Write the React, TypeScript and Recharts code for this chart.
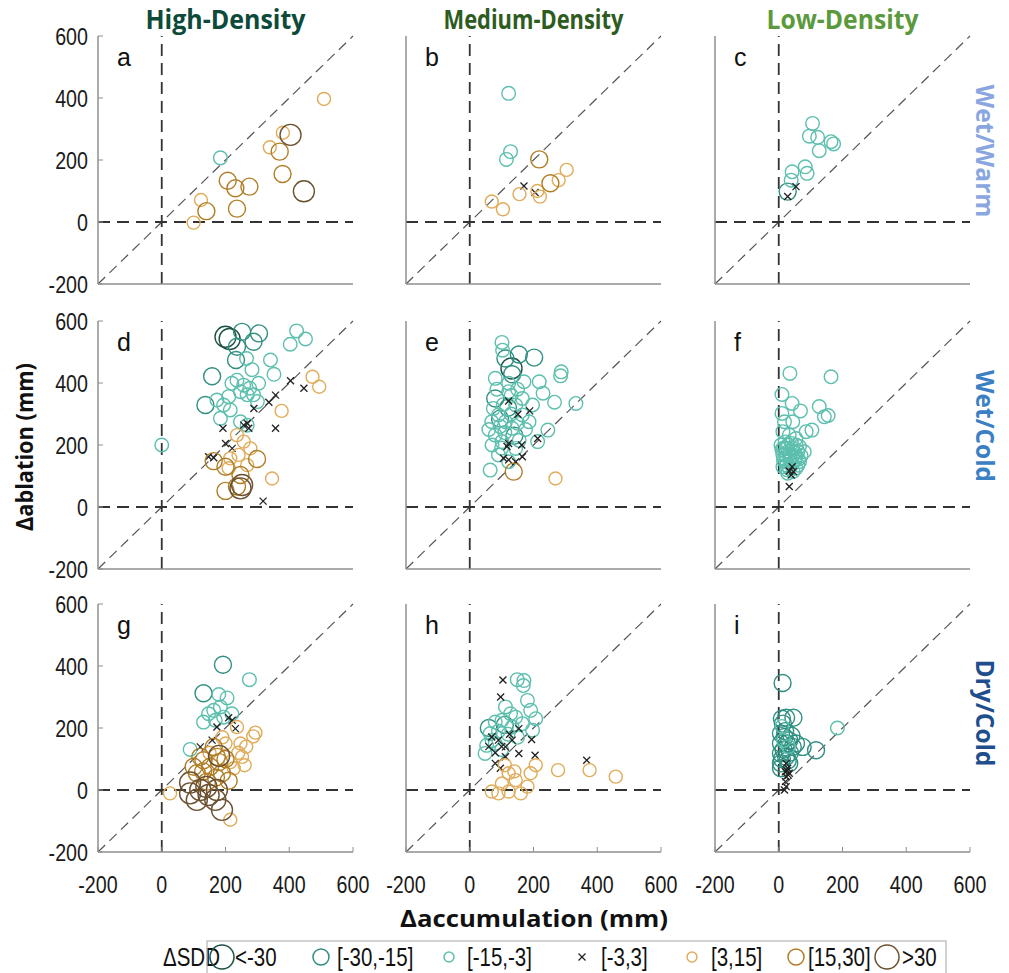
import React from 'react';
import { ScatterChart, Scatter, XAxis, YAxis, ReferenceLine } from 'recharts';

// [accumulation, ablation, SDD bin index]
type Pt = [number, number, number];

const SDD_BINS = ['<-30', '[-30,-15]', '[-15,-3]', '[-3,3]', '[3,15]', '[15,30]', '>30'];
const BIN_COLORS = ['#1d5245', '#2f8f80', '#5dbfae', '#222222', '#e0ac5a', '#b07d25', '#6b5232'];
const BIN_RADIUS = [10.5, 8.5, 6.8, 3.5, 6.5, 8.5, 10.5];
const LEGEND_RADIUS = [12, 8, 5, 3.5, 5, 8, 12];

const AXIS_TICKS = [-200, 0, 200, 400, 600];
const COLUMN_TITLES = ['High-Density', 'Medium-Density', 'Low-Density'];
const COLUMN_COLORS = ['#0d4a3a', '#2e5c1f', '#5b9a3c'];
const ROW_TITLES = ['Wet/Warm', 'Wet/Cold', 'Dry/Cold'];
const ROW_COLORS = ['#8aa6e0', '#3b7fc4', '#1f4e8c'];
const PANEL_LETTERS = ['a', 'b', 'c', 'd', 'e', 'f', 'g', 'h', 'i'];

const panelA: Pt[] = [
  [184, 207, 2], [509, 397, 4], [380, 288, 4], [404, 281, 6], [339, 241, 4], [370, 227, 5],
  [379, 155, 5], [446, 99, 6], [207, 133, 5], [231, 109, 5], [275, 114, 5], [236, 43, 5],
  [123, 71, 4], [140, 35, 5], [100, -2, 4],
];

const panelB: Pt[] = [
  [122, 415, 2], [128, 227, 2], [115, 202, 2], [218, 202, 5], [170, 116, 3], [205, 95, 3],
  [156, 90, 4], [212, 100, 4], [220, 82, 4], [253, 125, 5], [279, 135, 4], [304, 168, 4],
  [69, 66, 4], [104, 41, 4],
];

const panelC: Pt[] = [
  [106, 318, 2], [96, 277, 2], [122, 273, 2], [127, 230, 2], [164, 259, 2], [172, 252, 2],
  [42, 162, 2], [39, 135, 2], [83, 178, 2], [89, 157, 2], [28, 98, 1], [28, 82, 3], [54, 114, 3],
];

const panelD: Pt[] = [
  [200, 549, 0], [213, 542, 0],
  [252, 565, 1], [305, 560, 1], [236, 517, 1], [288, 533, 1], [233, 474, 1], [158, 422, 1], [137, 329, 1],
  [423, 568, 2], [451, 542, 2], [403, 525, 2], [266, 479, 2], [341, 474, 2], [352, 428, 2], [283, 443, 2],
  [220, 399, 2], [236, 409, 2], [257, 393, 2], [276, 383, 2], [304, 399, 2], [288, 362, 2], [268, 362, 2],
  [247, 372, 2], [210, 356, 2], [173, 345, 2], [194, 329, 2], [215, 313, 2], [184, 286, 2], [247, 275, 2],
  [268, 264, 2], [300, 340, 2], [0, 200, 2],
  [404, 407, 3], [446, 383, 3], [357, 361, 3], [336, 338, 3], [289, 318, 3], [268, 270, 3], [257, 264, 3],
  [273, 254, 3], [357, 254, 3], [192, 254, 3], [200, 205, 3], [221, 189, 3], [147, 162, 3], [163, 159, 3],
  [318, 19, 3],
  [473, 420, 4], [494, 388, 4], [376, 310, 4], [346, 92, 4], [236, 232, 4], [257, 211, 4], [278, 189, 4],
  [241, 168, 4], [268, 135, 4], [215, 157, 4], [210, 125, 4],
  [163, 148, 5], [299, 155, 5], [200, 130, 5], [247, 103, 5], [200, 52, 5], [236, 66, 5],
  [252, 71, 6], [247, 60, 6],
];

const panelE: Pt[] = [
  [101, 531, 2], [103, 506, 2], [112, 479, 1], [154, 492, 1], [202, 482, 1], [131, 447, 0], [133, 428, 1],
  [80, 415, 2], [218, 404, 2], [230, 367, 2], [287, 436, 2], [285, 423, 2], [122, 399, 2], [170, 404, 2],
  [266, 338, 2], [333, 334, 2], [80, 350, 1], [74, 318, 2], [90, 297, 2], [112, 275, 2], [69, 275, 2],
  [133, 254, 2], [80, 232, 2], [101, 211, 2], [144, 329, 2], [165, 297, 2], [186, 275, 2], [165, 350, 2],
  [122, 372, 2], [197, 329, 2], [245, 248, 2], [213, 211, 2], [90, 168, 2], [64, 119, 2], [122, 146, 2],
  [144, 189, 2], [95, 260, 2], [130, 300, 2], [110, 240, 2], [150, 270, 2], [100, 190, 2], [60, 250, 2],
  [140, 230, 1], [120, 320, 1], [85, 380, 2], [150, 380, 2], [175, 250, 2], [70, 200, 2], [105, 330, 2],
  [155, 215, 2], [95, 285, 1], [130, 360, 2],
  [122, 342, 3], [151, 299, 3], [188, 310, 3], [213, 221, 3], [122, 205, 3], [117, 195, 3], [163, 200, 3],
  [106, 157, 3], [122, 152, 3], [144, 146, 3], [165, 162, 3],
  [138, 114, 5], [269, 92, 4],
];

const panelF: Pt[] = [
  [35, 431, 2], [164, 420, 2], [10, 363, 2], [42, 334, 2], [68, 310, 2], [10, 302, 2], [44, 275, 2],
  [18, 275, 2], [127, 324, 2], [143, 291, 2], [155, 295, 2], [104, 248, 2], [86, 243, 2], [13, 243, 2],
  [33, 232, 2], [54, 221, 2], [7, 200, 2], [23, 189, 2], [44, 189, 2], [65, 195, 2], [80, 178, 2],
  [13, 168, 2], [33, 168, 2], [54, 162, 2], [23, 146, 2], [44, 141, 2], [65, 146, 2], [13, 130, 2],
  [33, 125, 2], [54, 125, 2], [28, 109, 2], [20, 210, 2], [40, 205, 2], [60, 180, 2], [30, 180, 2],
  [15, 150, 2], [50, 150, 2], [35, 155, 2], [25, 135, 2], [45, 115, 2], [60, 135, 2], [10, 185, 2],
  [70, 165, 2], [20, 170, 2], [40, 160, 2], [15, 190, 2], [50, 175, 2], [30, 200, 2], [55, 200, 2],
  [25, 120, 2], [40, 135, 2], [18, 155, 2], [62, 155, 2],
  [42, 130, 3], [46, 114, 3], [33, 116, 3], [39, 103, 3], [33, 66, 3],
];

const panelG: Pt[] = [
  [192, 404, 1], [275, 356, 2], [131, 312, 1], [179, 308, 2], [205, 297, 2], [147, 246, 2], [163, 257, 2],
  [184, 268, 2], [194, 235, 2], [220, 246, 2], [131, 219, 2], [168, 225, 2], [89, 131, 2],
  [210, 233, 3], [221, 225, 3], [173, 203, 3], [158, 161, 3], [121, 139, 3], [231, 198, 3],
  [294, 185, 4], [287, 173, 4], [236, 203, 4], [252, 107, 4], [226, 70, 4], [215, -96, 4], [26, -11, 4],
  [200, 150, 4], [247, 150, 4], [265, 140, 4], [240, 120, 4], [215, 90, 4], [190, 170, 4], [260, 80, 4],
  [150, 120, 4],
  [173, 107, 5], [131, 96, 5], [152, 75, 5], [110, 54, 5], [189, 54, 5], [142, 27, 5], [163, 139, 5],
  [121, 107, 5], [100, 75, 5], [180, 90, 5], [200, 100, 5], [170, 40, 5], [130, 60, 5], [210, 30, 5],
  [89, -11, 6], [121, 0, 6], [147, -16, 6], [173, 0, 6], [189, -64, 6], [110, -32, 6], [168, -32, 6],
  [89, 24, 6], [140, 10, 6], [180, 110, 6],
];

const panelH: Pt[] = [
  [149, 356, 2], [168, 337, 2], [170, 353, 2], [181, 289, 2], [191, 257, 2], [112, 268, 2], [128, 246, 2],
  [144, 235, 2], [80, 219, 2], [64, 182, 2], [53, 144, 2], [101, 225, 2], [133, 203, 2], [165, 214, 2],
  [197, 193, 2], [48, 118, 2], [80, 150, 2], [207, 230, 2], [90, 190, 2], [120, 180, 2], [150, 170, 2],
  [70, 160, 2], [110, 210, 1], [60, 200, 1], [100, 130, 2],
  [104, 355, 3], [97, 300, 3], [69, 171, 3], [90, 161, 3], [112, 139, 3], [133, 161, 3], [154, 198, 3],
  [194, 163, 3], [154, 118, 3], [205, 112, 3], [367, 96, 3], [80, 86, 3], [96, 70, 3], [112, 107, 3],
  [100, 140, 3], [80, 120, 3], [125, 180, 3], [60, 140, 3],
  [207, 80, 4], [191, 54, 4], [277, 64, 4], [376, 64, 4], [458, 43, 4], [90, -11, 4], [122, -5, 4],
  [160, -11, 4], [181, 11, 4], [122, 54, 4], [144, 32, 4], [101, 21, 4], [69, -5, 4], [110, 80, 4],
  [140, 60, 4],
];

const panelI: Pt[] = [
  [12, 345, 1], [10, 230, 1], [23, 233, 1], [46, 233, 1], [13, 214, 1], [184, 200, 2], [117, 128, 1],
  [75, 139, 1], [7, 182, 1], [18, 171, 1], [7, 150, 1], [33, 160, 1], [7, 118, 1], [23, 107, 1],
  [7, 86, 1], [33, 86, 1], [7, 70, 1], [44, 139, 1], [54, 150, 1], [15, 130, 1], [25, 150, 1],
  [35, 120, 1], [10, 100, 1], [20, 190, 1], [40, 175, 1], [28, 95, 1], [15, 160, 2], [30, 140, 2],
  [10, 205, 2],
  [23, 86, 3], [28, 70, 3], [21, 59, 3], [33, 54, 3], [23, 43, 3], [21, 27, 3], [23, 11, 3], [18, 0, 3],
  [26, 62, 3], [30, 48, 3],
];

const PANELS = [panelA, panelB, panelC, panelD, panelE, panelF, panelG, panelH, panelI];

// layout
const PLOT_W = 255;
const PLOT_H = 248;
const COL_X = [98, 406, 715];
const ROW_Y = [36, 321, 604];
const ML = 70;
const MB = 50;
const MT = 14;
const MR = 26;
const NARROW = 0.82;
const SANS = "'Liberation Sans', Arial, sans-serif";
const BOLD = "'Open Sans', 'Noto Sans', sans-serif";

const Marker = ({ cx, cy, k }: { cx: number; cy: number; k: number }) => {
  if (cx == null || cy == null) return null;
  const c = BIN_COLORS[k];
  if (k === 3) {
    const s = BIN_RADIUS[k];
    return (
      <g stroke={c} strokeWidth={1.3}>
        <line x1={cx - s} y1={cy - s} x2={cx + s} y2={cy + s} />
        <line x1={cx - s} y1={cy + s} x2={cx + s} y2={cy - s} />
      </g>
    );
  }
  return <circle cx={cx} cy={cy} r={BIN_RADIUS[k]} fill="none" stroke={c} strokeWidth={1.4} />;
};

const YTick = (props: any) => {
  const { x, y, payload } = props;
  return (
    <text transform={`translate(${x},${y}) scale(${NARROW},1)`} textAnchor="end" dy="0.36em"
      fontSize={24} fontFamily={SANS} fill="#1a1a1a">{payload.value}</text>
  );
};

const XTick = (props: any) => {
  const { x, y, payload } = props;
  return (
    <text transform={`translate(${x},${y}) scale(${NARROW},1)`} textAnchor="middle" dy="0.72em"
      fontSize={24} fontFamily={SANS} fill="#1a1a1a">{payload.value}</text>
  );
};

const Panel = ({ data, row, col }: { data: Pt[]; row: number; col: number }) => {
  const groups = SDD_BINS.map((_, k) => data.filter(p => p[2] === k).map(p => ({ x: p[0], y: p[1] })));
  const showY = col === 0;
  const showX = row === 2;
  const axisLine = { stroke: '#8f8f8f', strokeWidth: 1.5 };
  return (
    <div style={{ position: 'absolute', left: COL_X[col] - ML, top: ROW_Y[row] - MT }}>
      <ScatterChart width={ML + PLOT_W + MR} height={MT + PLOT_H + MB}
        margin={{ top: MT, right: MR, left: 0, bottom: 0 }}>
        <XAxis type="number" dataKey="x" domain={[-200, 600]} ticks={AXIS_TICKS} height={MB}
          axisLine={axisLine} tickLine={{ stroke: '#8f8f8f' }} tickSize={-5} tickMargin={29}
          tick={showX ? <XTick /> : false} interval={0} />
        <YAxis type="number" dataKey="y" domain={[-200, 600]} ticks={AXIS_TICKS} width={ML}
          axisLine={axisLine} tickLine={{ stroke: '#8f8f8f' }} tickSize={-5} tickMargin={15}
          tick={showY ? <YTick /> : false} interval={0} />
        <ReferenceLine segment={[{ x: -200, y: -200 }, { x: 600, y: 600 }]} stroke="#555"
          strokeWidth={1.2} strokeDasharray="10 6" />
        <ReferenceLine x={0} stroke="#333" strokeWidth={1.8} strokeDasharray="12 7" />
        <ReferenceLine y={0} stroke="#333" strokeWidth={1.8} strokeDasharray="12 7" />
        {groups.map((g, k) => (
          <Scatter key={SDD_BINS[k]} data={g} isAnimationActive={false}
            shape={(p: any) => <Marker cx={p.cx} cy={p.cy} k={k} />} />
        ))}
      </ScatterChart>
    </div>
  );
};

const LEGEND_SYMBOL_X = [222, 321, 449, 582, 692, 796, 887];
const LEGEND_TEXT_X = [235, 337, 467, 601, 711, 808, 902];

const Overlay = () => (
  <svg width={1009} height={973} style={{ position: 'absolute', left: 0, top: 0, pointerEvents: 'none' }}>
    {COLUMN_TITLES.map((t, i) => (
      <text key={t} x={COL_X[i] + PLOT_W / 2} y={29} textAnchor="middle" fontSize={26} fontWeight={700}
        fontFamily={BOLD} fill={COLUMN_COLORS[i]}
        textLength={[160, 180, 152][i]} lengthAdjust="spacingAndGlyphs">{t}</text>
    ))}
    {ROW_TITLES.map((t, i) => (
      <text key={t} transform={`translate(976,${[151, 426, 713][i]}) rotate(90)`} textAnchor="middle"
        fontSize={25} fontWeight={700} fontFamily={BOLD} fill={ROW_COLORS[i]}
        textLength={[133, 112, 107][i]} lengthAdjust="spacingAndGlyphs">{t}</text>
    ))}
    {PANEL_LETTERS.map((l, i) => (
      <text key={l} x={COL_X[i % 3] + 19} y={ROW_Y[Math.floor(i / 3)] + 30} fontSize={25}
        fontFamily={SANS} fill="#111">{l}</text>
    ))}
    <text transform="translate(33,447) rotate(-90)" textAnchor="middle" fontSize={23} fontWeight={700}
      fontFamily={BOLD} fill="#111" textLength={168} lengthAdjust="spacingAndGlyphs">Δablation (mm)</text>
    <text x={534} y={927} textAnchor="middle" fontSize={23} fontWeight={700} fontFamily={BOLD} fill="#111"
      textLength={268} lengthAdjust="spacingAndGlyphs">Δaccumulation (mm)</text>
    <text transform="translate(163,966) scale(0.82,1)" fontSize={25} fontFamily={SANS} fill="#111">ΔSDD</text>
    <rect x={207} y={941} width={739} height={40} fill="none" stroke="#b5b5b5" strokeWidth={1.2} />
    {SDD_BINS.map((b, k) => (
      <g key={b}>
        {k === 3 ? (
          <g stroke={BIN_COLORS[k]} strokeWidth={1.2}>
            <line x1={LEGEND_SYMBOL_X[k] - 3.5} y1={957 - 3.5} x2={LEGEND_SYMBOL_X[k] + 3.5} y2={957 + 3.5} />
            <line x1={LEGEND_SYMBOL_X[k] - 3.5} y1={957 + 3.5} x2={LEGEND_SYMBOL_X[k] + 3.5} y2={957 - 3.5} />
          </g>
        ) : (
          <circle cx={LEGEND_SYMBOL_X[k]} cy={957} r={LEGEND_RADIUS[k]} fill="none" stroke={BIN_COLORS[k]}
            strokeWidth={1.5} />
        )}
        <text transform={`translate(${LEGEND_TEXT_X[k]},966) scale(0.82,1)`} fontSize={25}
          fontFamily={SANS} fill="#111">{b}</text>
      </g>
    ))}
  </svg>
);

export default function App() {
  return (
    <div style={{ position: 'absolute', left: 0, top: 0, width: 1009, height: 973, background: '#fff', overflow: 'hidden' }}>
      {PANELS.map((d, i) => (
        <Panel key={i} data={d} row={Math.floor(i / 3)} col={i % 3} />
      ))}
      <Overlay />
    </div>
  );
}
